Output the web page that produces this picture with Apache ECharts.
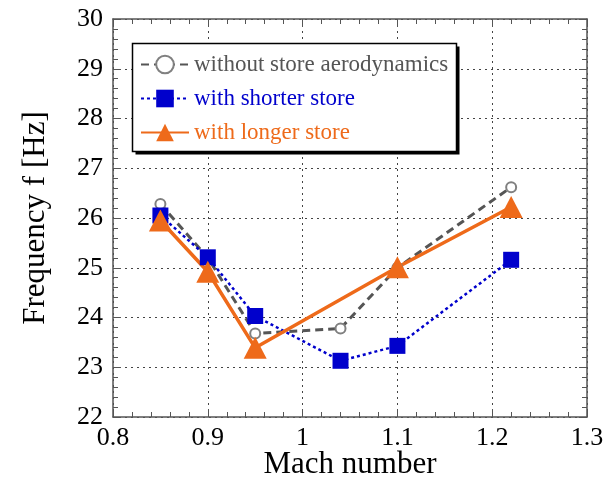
<!DOCTYPE html>
<html><head><meta charset="utf-8">
<script src="https://cdn.jsdelivr.net/npm/echarts@6/dist/echarts.min.js"></script>
<style>html,body{margin:0;padding:0;background:#fff}#c{width:613px;height:485px}</style>
</head><body><div id="c"></div>
<script>
const machWithout = [0.85, 0.90, 0.95, 1.04, 1.10, 1.22];
const freqWithout = [26.28, 25.2, 23.68, 23.78, 25.0, 26.62];
const machShorter = [0.85, 0.90, 0.95, 1.04, 1.10, 1.22];
const freqShorter = [26.05, 25.21, 24.03, 23.13, 23.43, 25.16];
const machLonger = [0.85, 0.90, 0.95, 1.10, 1.22];
const freqLonger = [25.95, 24.92, 23.39, 25.01, 26.22];
const seriesNames = ['without store aerodynamics', 'with shorter store', 'with longer store'];
const xTitle = 'Mach number';
const yTitle = 'Frequency f [Hz]';

const pair = (xs, ys) => xs.map((x, i) => [x, ys[i]]);
const font = 'Liberation Serif, Times New Roman, serif';
const colors = ['#555555', '#0000CC', '#EE6A1A'];

const axisCommon = {
  axisLine: { show: true, lineStyle: { color: '#555', width: 1.5 } },
  axisTick: { show: true, inside: true, length: 8, lineStyle: { color: '#555', width: 1 } },
  minorTick: { show: true, splitNumber: 5, length: 5, lineStyle: { color: '#555', width: 1 } },
};

const chart = echarts.init(document.getElementById('c'), null, { renderer: 'canvas' });
chart.setOption({
  animation: false,
  textStyle: { fontFamily: font },
  grid: { left: 113, right: 26, top: 19, bottom: 68, containLabel: false, outerBoundsMode: 'none' },
  graphic: [
    { type: 'rect', z: 5, shape: { x: 135.5, y: 46.5, width: 324, height: 108 }, style: { fill: '#000' } },
    { type: 'rect', z: 6, shape: { x: 132.5, y: 43.5, width: 324, height: 108 },
      style: { fill: '#fff', stroke: '#000', lineWidth: 1.5 } },
  ],
  xAxis: [
    Object.assign({
      type: 'value', min: 0.8, max: 1.3, interval: 0.1, position: 'bottom',
      name: xTitle, nameLocation: 'middle', nameGap: 32, nameMoveOverlap: false,
      nameTextStyle: { fontFamily: font, fontSize: 31, color: '#000' },
      axisLabel: { fontFamily: font, fontSize: 26, color: '#000', margin: 8,
        formatter: v => (Math.round(v * 10) / 10).toString() },
      splitLine: { show: true, lineStyle: { color: '#444', type: [2, 4], width: 1 } },
    }, axisCommon),
    Object.assign({
      type: 'value', min: 0.8, max: 1.3, interval: 0.1, position: 'top',
      axisLabel: { show: false }, splitLine: { show: false },
    }, axisCommon),
  ],
  yAxis: [
    Object.assign({
      type: 'value', min: 22, max: 30, interval: 1, position: 'left',
      name: yTitle, nameLocation: 'middle', nameGap: 62, nameRotate: 90, nameMoveOverlap: false,
      nameTextStyle: { fontFamily: font, fontSize: 31, color: '#000' },
      axisLabel: { fontFamily: font, fontSize: 26, color: '#000', margin: 10 },
      splitLine: { show: true, lineStyle: { color: '#444', type: [2, 4], width: 1 } },
    }, axisCommon),
    Object.assign({
      type: 'value', min: 22, max: 30, interval: 1, position: 'right',
      axisLabel: { show: false }, splitLine: { show: false },
    }, axisCommon),
  ],
  legend: {
    orient: 'vertical', left: 140, top: 53, z: 10,
    backgroundColor: 'transparent', borderWidth: 0,
    padding: 0, itemGap: 11, itemWidth: 48, itemHeight: 22,
    textStyle: { fontFamily: font, fontSize: 23, lineHeight: 23 },
    data: [
      { name: seriesNames[0], textStyle: { color: '#555' } },
      { name: seriesNames[1], textStyle: { color: '#0000CC' } },
      { name: seriesNames[2], textStyle: { color: '#EE6A1A' } },
    ],
  },
  series: [
    {
      name: seriesNames[0], type: 'line', data: pair(machWithout, freqWithout),
      symbol: 'emptyCircle', symbolSize: 10,
      lineStyle: { color: colors[0], width: 3, type: [8, 5] },
      itemStyle: { color: '#808080', borderWidth: 1 },
    },
    {
      name: seriesNames[1], type: 'line', data: pair(machShorter, freqShorter),
      symbol: 'rect', symbolSize: 16,
      lineStyle: { color: colors[1], width: 2.5, type: [3, 3] },
      itemStyle: { color: colors[1] },
    },
    {
      name: seriesNames[2], type: 'line', data: pair(machLonger, freqLonger),
      symbol: 'triangle', symbolSize: [23, 22],
      lineStyle: { color: colors[2], width: 3.5 },
      itemStyle: { color: colors[2] },
    },
  ],
});
</script></body></html>
